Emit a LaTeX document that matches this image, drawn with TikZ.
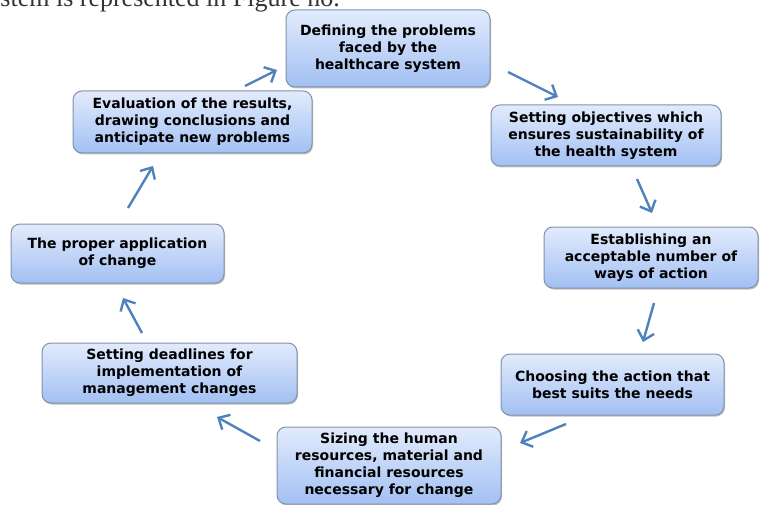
\documentclass[tikz,border=0pt]{standalone}
\usepackage{fontspec}
\setmainfont{DejaVu Sans}
\newfontfamily\serifhead{Liberation Serif}
\usetikzlibrary{arrows.meta,shadows}
\definecolor{boxtop}{HTML}{E2EBFC}
\definecolor{boxbot}{HTML}{A2C0F3}
\definecolor{boxedge}{HTML}{8292AA}
\definecolor{arrowblue}{HTML}{4F81BD}
\tikzset{
  stepbox/.style={draw=boxedge, line width=1pt, rounded corners=9pt,
    top color=boxtop, bottom color=boxbot, align=center,
    font=\fontsize{14}{17}\selectfont\bfseries, inner sep=0pt,
    drop shadow={shadow xshift=1pt, shadow yshift=-1.5pt, opacity=0.25, fill=black}},
  flow/.style={draw=arrowblue, line width=2.4pt, -{Straight Barb[length=9pt,width=17pt]}}
}
\begin{document}
\begin{tikzpicture}[x=1pt,y=-1pt]
\useasboundingbox (0,0) rectangle (760,505);
\clip (0,0) rectangle (760,505);
\node[anchor=base east, font=\serifhead\fontsize{26}{30}\selectfont, text=black!80, inner sep=0pt] (head) at (340,7) {stem is represented in Figure no.};

\node[stepbox, minimum width=204pt, minimum height=77pt] (b1) at (388,48.5) {Defining the problems\\faced by the\\healthcare system};
\node[stepbox, minimum width=230pt, minimum height=61pt] (b2) at (606,135.5) {Setting objectives which\\ensures sustainability of\\the health system};
\node[stepbox, minimum width=214pt, minimum height=61pt] (b3) at (651,257.5) {Establishing an\\acceptable number of\\ways of action};
\node[stepbox, minimum width=223pt, minimum height=61pt] (b4) at (612.5,384.5) {Choosing the action that\\best suits the needs};
\node[stepbox, minimum width=224pt, minimum height=77pt] (b5) at (389,465.5) {\raisebox{8pt}{\begin{tabular}{@{}c@{}}Sizing the human\\resources, material and\\financial resources\\necessary for change\end{tabular}}};
\node[stepbox, minimum width=255pt, minimum height=60pt] (b6) at (169.5,373) {Setting deadlines for\\implementation of\\management changes};
\node[stepbox, minimum width=213pt, minimum height=59pt] (b7) at (117.5,253.5) {The proper application\\of change};
\node[stepbox, minimum width=239pt, minimum height=62pt] (b8) at (192.5,122) {Evaluation of the results,\\drawing conclusions and\\anticipate new problems};

\coordinate (t1) at (245,86);  \coordinate (h1) at (277,70);
\coordinate (t2) at (508,72);  \coordinate (h2) at (558,97);
\coordinate (t3) at (637,179); \coordinate (h3) at (652,213);
\coordinate (t4) at (654,303); \coordinate (h4) at (643,342);
\coordinate (t5) at (566,424); \coordinate (h5) at (520,443);
\coordinate (t6) at (260,441); \coordinate (h6) at (217,417);
\coordinate (t7) at (142,333); \coordinate (h7) at (123,298);
\coordinate (t8) at (128,208); \coordinate (h8) at (153,166);
\foreach \i in {1,...,8} { \draw[flow] (t\i) -- (h\i); }
\end{tikzpicture}
\end{document}
